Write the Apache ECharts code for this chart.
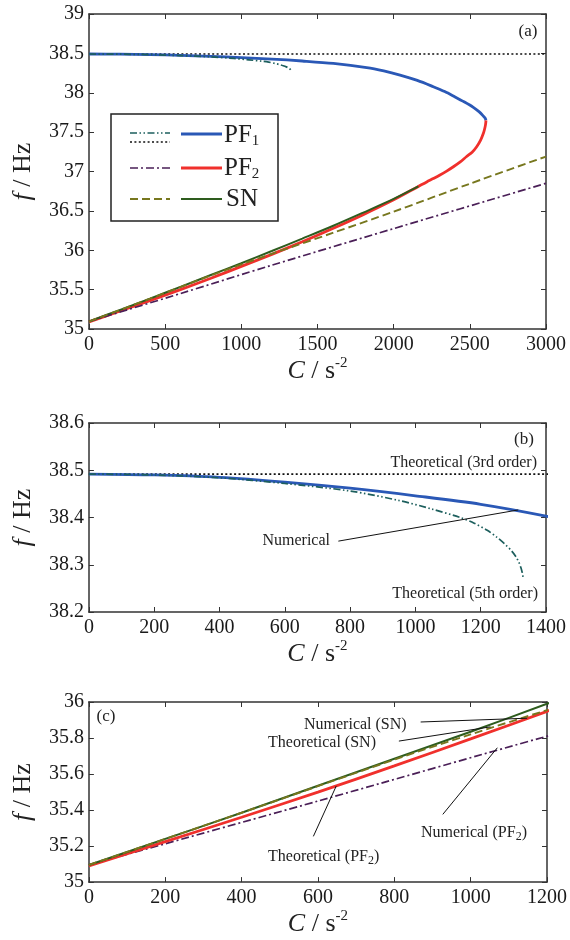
<!DOCTYPE html>
<html><head><meta charset="utf-8">
<script src="https://cdn.jsdelivr.net/npm/echarts@6/dist/echarts.min.js"></script>
<style>html,body{margin:0;padding:0;background:#fff}#c{width:570px;height:940px}</style>
</head><body><div id="c"></div>
<script>
// ---------- data ----------
// PF1 numerical (solid blue)
const pf1NumC = [0, 200, 400, 600, 800, 1000, 1200, 1400, 1604, 1823, 1935, 2042, 2155, 2260, 2335, 2400, 2465, 2523, 2560, 2586, 2600, 2606];
const pf1NumF = [38.492, 38.49, 38.485, 38.475, 38.462, 38.446, 38.428, 38.403, 38.372, 38.32, 38.278, 38.225, 38.157, 38.077, 38.015, 37.95, 37.882, 37.815, 37.76, 37.71, 37.678, 37.65];
// PF2 numerical (solid red), from the turning point back to C = 0
const pf2NumC = [2606, 2603, 2597, 2589, 2570, 2545, 2515, 2479, 2437, 2392, 2348, 2304, 2260, 2217, 2162, 2000, 1800, 1600, 1400, 1200, 1000, 800, 600, 400, 200, 0];
const pf2NumF = [37.65, 37.595, 37.54, 37.485, 37.395, 37.315, 37.245, 37.19, 37.122, 37.06, 37.005, 36.955, 36.91, 36.868, 36.81, 36.64, 36.452, 36.276, 36.108, 35.948, 35.795, 35.645, 35.5, 35.36, 35.225, 35.09];
// SN numerical (solid green)
const snNumC = [0, 200, 400, 600, 800, 1000, 1200, 1400, 1600, 1800, 2000, 2162];
const snNumF = [35.095, 35.24, 35.385, 35.535, 35.685, 35.835, 35.99, 36.148, 36.308, 36.478, 36.652, 36.81];
// PF1 theoretical, 3rd order (black dotted)
const pf1Th3C = [0, 3000];
const pf1Th3F = [38.492, 38.492];
// PF1 theoretical, 5th order (teal dash-dot-dot)
const pf1Th5C = [0, 200, 400, 600, 800, 950, 1050, 1137, 1180, 1220, 1250, 1275, 1295, 1308, 1317, 1323, 1327, 1329, 1330];
const pf1Th5F = [38.492, 38.49, 38.484, 38.472, 38.456, 38.436, 38.418, 38.40, 38.388, 38.373, 38.358, 38.343, 38.329, 38.317, 38.305, 38.294, 38.284, 38.277, 38.272];
// PF2 theoretical (purple dash-dot)
const pf2ThC = [0, 600, 1200, 2000, 3000];
const pf2ThF = [35.095, 35.45, 35.81, 36.275, 36.85];
// SN theoretical (olive dashed)
const snThC = [0, 400, 800, 1000, 1200, 1600, 2000, 2500, 3000];
const snThF = [35.095, 35.385, 35.68, 35.82, 35.955, 36.22, 36.49, 36.845, 37.19];

// tick labels
const xTicksA = [0, 500, 1000, 1500, 2000, 2500, 3000];
const yTicksA = [35, 35.5, 36, 36.5, 37, 37.5, 38, 38.5, 39];
const xTicksB = [0, 200, 400, 600, 800, 1000, 1200, 1400];
const yTicksB = [38.2, 38.3, 38.4, 38.5, 38.6];
const xTicksC = [0, 200, 400, 600, 800, 1000, 1200];
const yTicksC = [35, 35.2, 35.4, 35.6, 35.8, 36];

// annotation leader lines (data coordinates: [C, f] start, [C, f] end)
const leaderB = [[[764, 38.350], [1315, 38.416]]];
const leaderC = [
  [[869, 35.889], [1148, 35.910]],
  [[812, 35.783], [1052, 35.862]],
  [[588, 35.254], [648, 35.534]],
  [[927, 35.376], [1070, 35.746]]
];

// ---------- styles ----------
const FONT = '"Liberation Serif", "DejaVu Serif", serif';
const ST = {
  pf1Num: { color: '#2a58b6', width: 2.8, type: 'solid' },
  pf2Num: { color: '#f0302c', width: 2.8, type: 'solid' },
  snNum:  { color: '#2e5c1e', width: 2,   type: 'solid' },
  pf1Th3: { color: '#111111', width: 1.7, type: [2, 2.4] },
  pf1Th5: { color: '#1d5f5d', width: 1.7, type: [7, 2.5, 1.5, 2.5, 1.5, 2.5] },
  pf2Th:  { color: '#4a1f57', width: 1.7, type: [8, 3, 2, 3] },
  snTh:   { color: '#77771e', width: 1.9, type: [8, 4] }
};

function pts(cs, fs) { return cs.map((c, i) => [c, fs[i]]); }
function rnd(v) { return Math.round(v * 1e6) / 1e6; }
function fmt(v) { return String(+(+v).toFixed(3)); }

const grids = [
  { left: 89, top: 14, width: 457, height: 315 },
  { left: 88, top: 423, width: 458, height: 189 },
  { left: 86, top: 702, width: 461, height: 189 }
];

const titleStyle = {
  fontFamily: FONT, fontSize: 26, color: '#222', lineHeight: 30,
  rich: {
    i: { fontFamily: FONT, fontStyle: 'italic', fontSize: 26, lineHeight: 30, color: '#222' },
    sup: { fontFamily: FONT, fontSize: 15, lineHeight: 13, verticalAlign: 'top', color: '#222' }
  }
};

const xAxes = [], yAxes = [];
function addAxes(gi, xt, yt) {
  const lineStyle = { color: '#333', width: 1.5 };
  const tick = { show: true, inside: true, length: 5, lineStyle: { color: '#333', width: 1 } };
  const xBase = { type: 'value', gridIndex: gi, min: xt[0], max: xt[xt.length - 1], interval: rnd(xt[1] - xt[0]),
    axisLine: { show: true, onZero: false, lineStyle }, axisTick: tick, splitLine: { show: false } };
  const yBase = { type: 'value', gridIndex: gi, min: yt[0], max: yt[yt.length - 1], interval: rnd(yt[1] - yt[0]),
    axisLine: { show: true, onZero: false, lineStyle }, axisTick: tick, splitLine: { show: false } };
  xAxes.push(Object.assign({}, xBase, {
    position: 'bottom',
    axisLabel: { fontFamily: FONT, fontSize: 20, color: '#1a1a1a', margin: 6, formatter: fmt },
    name: '{i|C} / s{sup|-2}', nameLocation: 'middle', nameGap: 21, nameTextStyle: titleStyle
  }));
  xAxes.push(Object.assign({}, xBase, { position: 'top', axisLabel: { show: false } }));
  yAxes.push(Object.assign({}, yBase, {
    position: 'left',
    axisLabel: { fontFamily: FONT, fontSize: 20, color: '#1a1a1a', margin: 5, formatter: fmt },
    name: '{i|f} / Hz', nameLocation: 'middle', nameGap: 42, nameRotate: 90, nameTextStyle: titleStyle
  }));
  yAxes.push(Object.assign({}, yBase, { position: 'right', axisLabel: { show: false } }));
}
addAxes(0, xTicksA, yTicksA);
addAxes(1, xTicksB, yTicksB);
addAxes(2, xTicksC, yTicksC);

function line(gi, cs, fs, st, extra) {
  return Object.assign({
    type: 'line', xAxisIndex: gi * 2, yAxisIndex: gi * 2, data: pts(cs, fs),
    showSymbol: false, symbol: 'none', smooth: 0.3, clip: true, silent: true,
    lineStyle: { color: st.color, width: st.width, type: st.type }
  }, extra || {});
}
function leaderMark(list) {
  return {
    silent: true, symbol: ['none', 'none'], label: { show: false },
    lineStyle: { color: '#111', width: 1, type: 'solid' },
    data: list.map(l => [{ coord: l[0] }, { coord: l[1] }])
  };
}

const series = [];
// panel (a)
series.push(line(0, pf1Th3C, pf1Th3F, ST.pf1Th3, { smooth: false }));
series.push(line(0, pf1NumC, pf1NumF, ST.pf1Num));
series.push(line(0, pf2NumC, pf2NumF, ST.pf2Num));
series.push(line(0, snNumC, snNumF, ST.snNum));
series.push(line(0, pf1Th5C, pf1Th5F, ST.pf1Th5));
series.push(line(0, pf2ThC, pf2ThF, ST.pf2Th));
series.push(line(0, snThC, snThF, ST.snTh));
// panel (b)
series.push(line(1, pf1Th3C, pf1Th3F, ST.pf1Th3, { smooth: false }));
series.push(line(1, pf1NumC, pf1NumF, ST.pf1Num, { markLine: leaderMark(leaderB) }));
series.push(line(1, pf1Th5C, pf1Th5F, ST.pf1Th5));
// panel (c)
series.push(line(2, pf2ThC, pf2ThF, ST.pf2Th));
series.push(line(2, pf2NumC, pf2NumF, ST.pf2Num, { markLine: leaderMark(leaderC) }));
series.push(line(2, snNumC, snNumF, ST.snNum));
series.push(line(2, snThC, snThF, ST.snTh));

// ---------- text / legend graphics ----------
function txt(x, y, text, opts) {
  const o = opts || {};
  return {
    type: 'text', x, y, z: 110, silent: true,
    style: Object.assign({
      text, fill: '#222', fontFamily: FONT, fontSize: 16,
      align: o.align || 'left', verticalAlign: 'middle',
      textAlign: o.align || 'left', textVerticalAlign: 'middle'
    }, o.style || {})
  };
}
const subRich = {
  n: { fontFamily: FONT, fontSize: 16, lineHeight: 20, fill: '#222', color: '#222' },
  s: { fontFamily: FONT, fontSize: 12, lineHeight: 11, verticalAlign: 'bottom', fill: '#222', color: '#222' }
};
function lg(x1, x2, y, st) {
  return { type: 'line', z: 105, silent: true, shape: { x1, y1: y, x2, y2: y },
    style: { stroke: st.color, lineWidth: st.width, lineDash: Array.isArray(st.type) ? st.type : null } };
}
const legRich = {
  a: { fontFamily: FONT, fontSize: 25, lineHeight: 28, fill: '#222', color: '#222' },
  s: { fontFamily: FONT, fontSize: 15, lineHeight: 14, verticalAlign: 'bottom', fill: '#222', color: '#222' }
};

const graphic = [
  txt(528, 32, '(a)', { align: 'center', style: { fontSize: 17 } }),
  txt(524, 440, '(b)', { align: 'center', style: { fontSize: 17 } }),
  txt(106, 717, '(c)', { align: 'center', style: { fontSize: 17 } }),
  txt(537, 463, 'Theoretical (3rd order)', { align: 'right' }),
  txt(330, 541, 'Numerical', { align: 'right' }),
  txt(538, 594, 'Theoretical (5th order)', { align: 'right' }),
  txt(304, 725, 'Numerical (SN)'),
  txt(268, 743, 'Theoretical (SN)'),
  txt(268, 857, '{n|Theoretical (PF}{s|2}{n|)}', { style: { rich: subRich } }),
  txt(421, 833, '{n|Numerical (PF}{s|2}{n|)}', { style: { rich: subRich } }),
  // legend
  { type: 'rect', z: 100, silent: true, shape: { x: 111, y: 114, width: 167, height: 107 },
    style: { fill: '#fff', stroke: '#222', lineWidth: 1.5 } },
  lg(130, 170, 133, ST.pf1Th5),
  lg(130, 170, 142, ST.pf1Th3),
  lg(181, 222, 134, ST.pf1Num),
  lg(130, 170, 168, ST.pf2Th),
  lg(181, 222, 168, ST.pf2Num),
  lg(130, 170, 199, ST.snTh),
  lg(181, 222, 199, ST.snNum),
  txt(224, 135, '{a|PF}{s|1}', { style: { rich: legRich } }),
  txt(224, 168, '{a|PF}{s|2}', { style: { rich: legRich } }),
  txt(226, 199, '{a|SN}', { style: { rich: legRich } })
];

const chart = echarts.init(document.getElementById('c'), null, { renderer: 'canvas' });
chart.setOption({
  animation: false,
  backgroundColor: '#fff',
  textStyle: { fontFamily: FONT },
  grid: grids,
  xAxis: xAxes,
  yAxis: yAxes,
  series,
  graphic
});
</script>
</body></html>
